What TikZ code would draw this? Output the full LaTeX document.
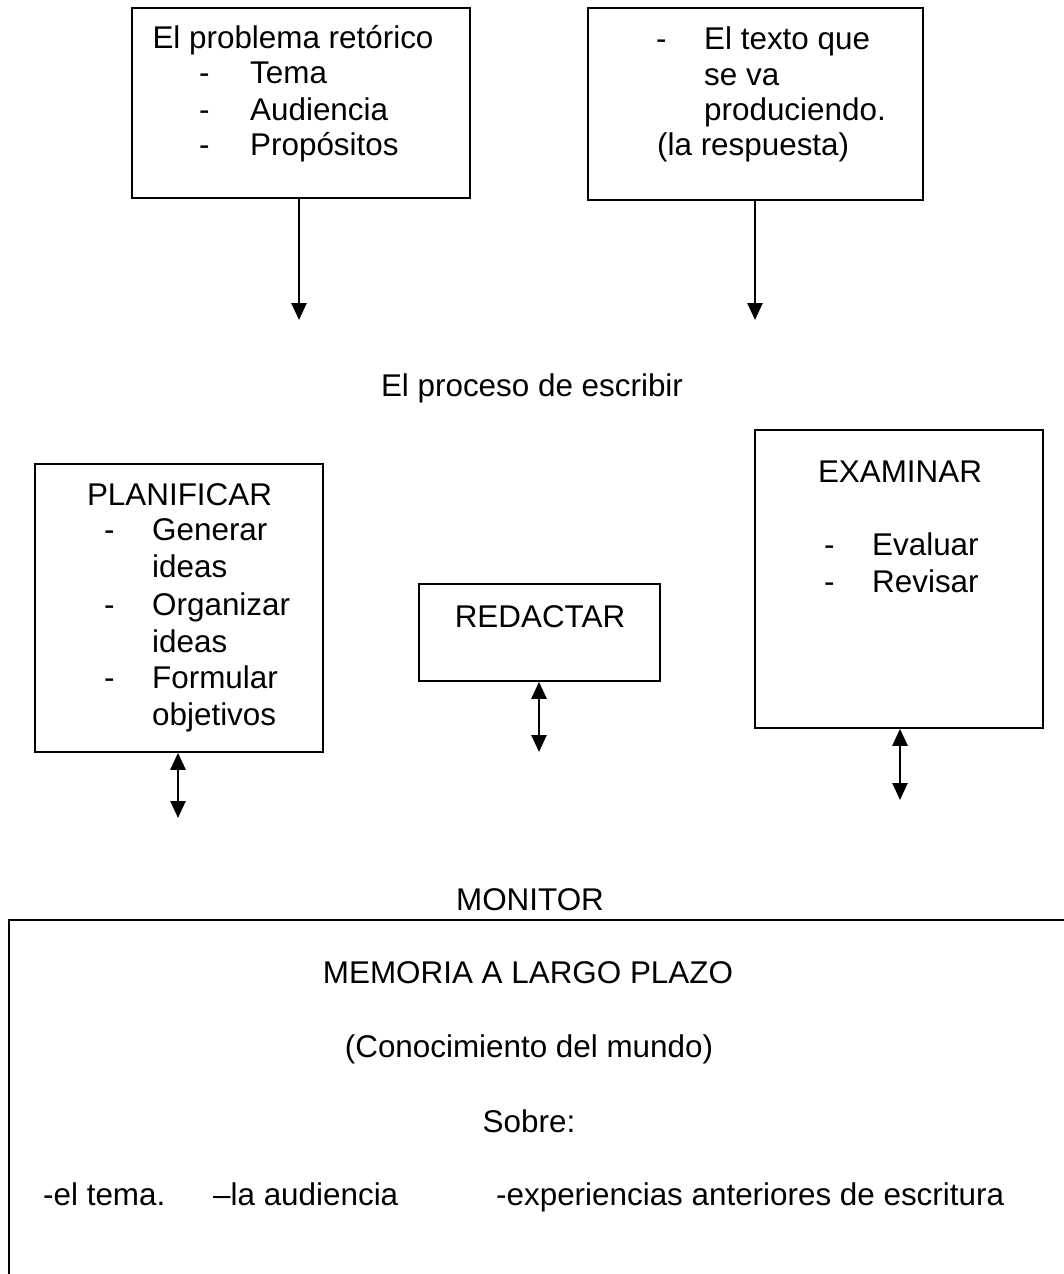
\documentclass[tikz,border=0pt]{standalone}
\usepackage{fontspec}
\setmainfont{Liberation Sans}
\usetikzlibrary{arrows.meta}
\begin{document}
\begin{tikzpicture}[x=1pt,y=-1pt,
  box/.style={draw=black,line width=1.6pt,rectangle,inner sep=0pt},
  txt/.style={inner sep=0pt,font=\fontsize{31.4}{36}\selectfont,anchor=base},
  ltxt/.style={txt,anchor=base west},
  arr/.style={line width=2.6pt,-{Triangle[width=15pt,length=17pt]}},
  darr/.style={line width=2.6pt,{Triangle[width=15pt,length=17pt]}-{Triangle[width=15pt,length=17pt]}}]
\useasboundingbox (0,0) rectangle (1064,1274);
\clip (0,0) rectangle (1064,1274);
\fill[white] (0,0) rectangle (1064,1274);

% top boxes
\node[box,minimum width=338pt,minimum height=190pt] (b1) at (301,103) {};
\node[box,minimum width=335pt,minimum height=192pt] (b2) at (755.5,104) {};

\node[txt] (b1t0) at (293,48) {El problema retórico};
\node[ltxt] (b1d1) at (199,83) {-};
\node[ltxt] (b1t1) at (250,83) {Tema};
\node[ltxt] (b1d2) at (199,120) {-};
\node[ltxt] (b1t2) at (250,120) {Audiencia};
\node[ltxt] (b1d3) at (199,155) {-};
\node[ltxt] (b1t3) at (250,155) {Propósitos};

\node[ltxt] (b2d1) at (656,49) {-};
\node[ltxt] (b2t1) at (704,49) {El texto que};
\node[ltxt] (b2t2) at (704,85) {se va};
\node[ltxt] (b2t3) at (704,120) {produciendo.};
\node[ltxt] (b2t4) at (657,155) {(la respuesta)};

\coordinate (e1) at (299,320);
\coordinate (e2) at (755,320);
\draw[arr] (b1.south -| e1) -- (e1);
\draw[arr] (b2.south -| e2) -- (e2);

\node[txt] (proc) at (532,396) {El proceso de escribir};

% process boxes
\node[box,minimum width=288pt,minimum height=288pt] (plan) at (179,608) {};
\node[txt] (plant) at (179.5,505) {PLANIFICAR};
\node[ltxt] (pd1) at (104,540) {-};
\node[ltxt] (pt1) at (152,540) {Generar};
\node[ltxt] (pt1b) at (152,577) {ideas};
\node[ltxt] (pd2) at (104,615) {-};
\node[ltxt] (pt2) at (152,615) {Organizar};
\node[ltxt] (pt2b) at (152,652) {ideas};
\node[ltxt] (pd3) at (104,688) {-};
\node[ltxt] (pt3) at (152,688) {Formular};
\node[ltxt] (pt3b) at (152,725) {objetivos};

\node[box,minimum width=241pt,minimum height=97pt] (red) at (539.5,632.5) {};
\node[txt] (redt) at (540,627) {REDACTAR};

\node[box,minimum width=288pt,minimum height=298pt] (exa) at (899,579) {};
\node[txt] (exat) at (900,482) {EXAMINAR};
\node[ltxt] (ed1) at (824,555) {-};
\node[ltxt] (et1) at (872,555) {Evaluar};
\node[ltxt] (ed2) at (824,592) {-};
\node[ltxt] (et2) at (872,592) {Revisar};

\coordinate (pe) at (178,818);
\coordinate (re) at (539,752);
\coordinate (ee) at (900,800);
\draw[darr] (plan.south -| pe) -- (pe);
\draw[darr] (red.south -| re) -- (re);
\draw[darr] (exa.south -| ee) -- (ee);

\node[txt] (mon) at (530,910) {MONITOR};

% memory box (extends beyond the page)
\node[box,minimum width=1100pt,minimum height=420pt,anchor=north west] (mem) at (8,919) {};
\node[txt] (memt) at (528,983) {MEMORIA A LARGO PLAZO};
\node[txt] (memc) at (529,1057) {(Conocimiento del mundo)};
\node[txt] (mems) at (529,1132) {Sobre:};
\node[ltxt] (m1) at (43,1205) {-el tema.};
\node[ltxt] (m2) at (213,1205) {–la audiencia};
\node[ltxt] (m3) at (496,1205) {-experiencias anteriores de escritura};
\end{tikzpicture}
\end{document}
